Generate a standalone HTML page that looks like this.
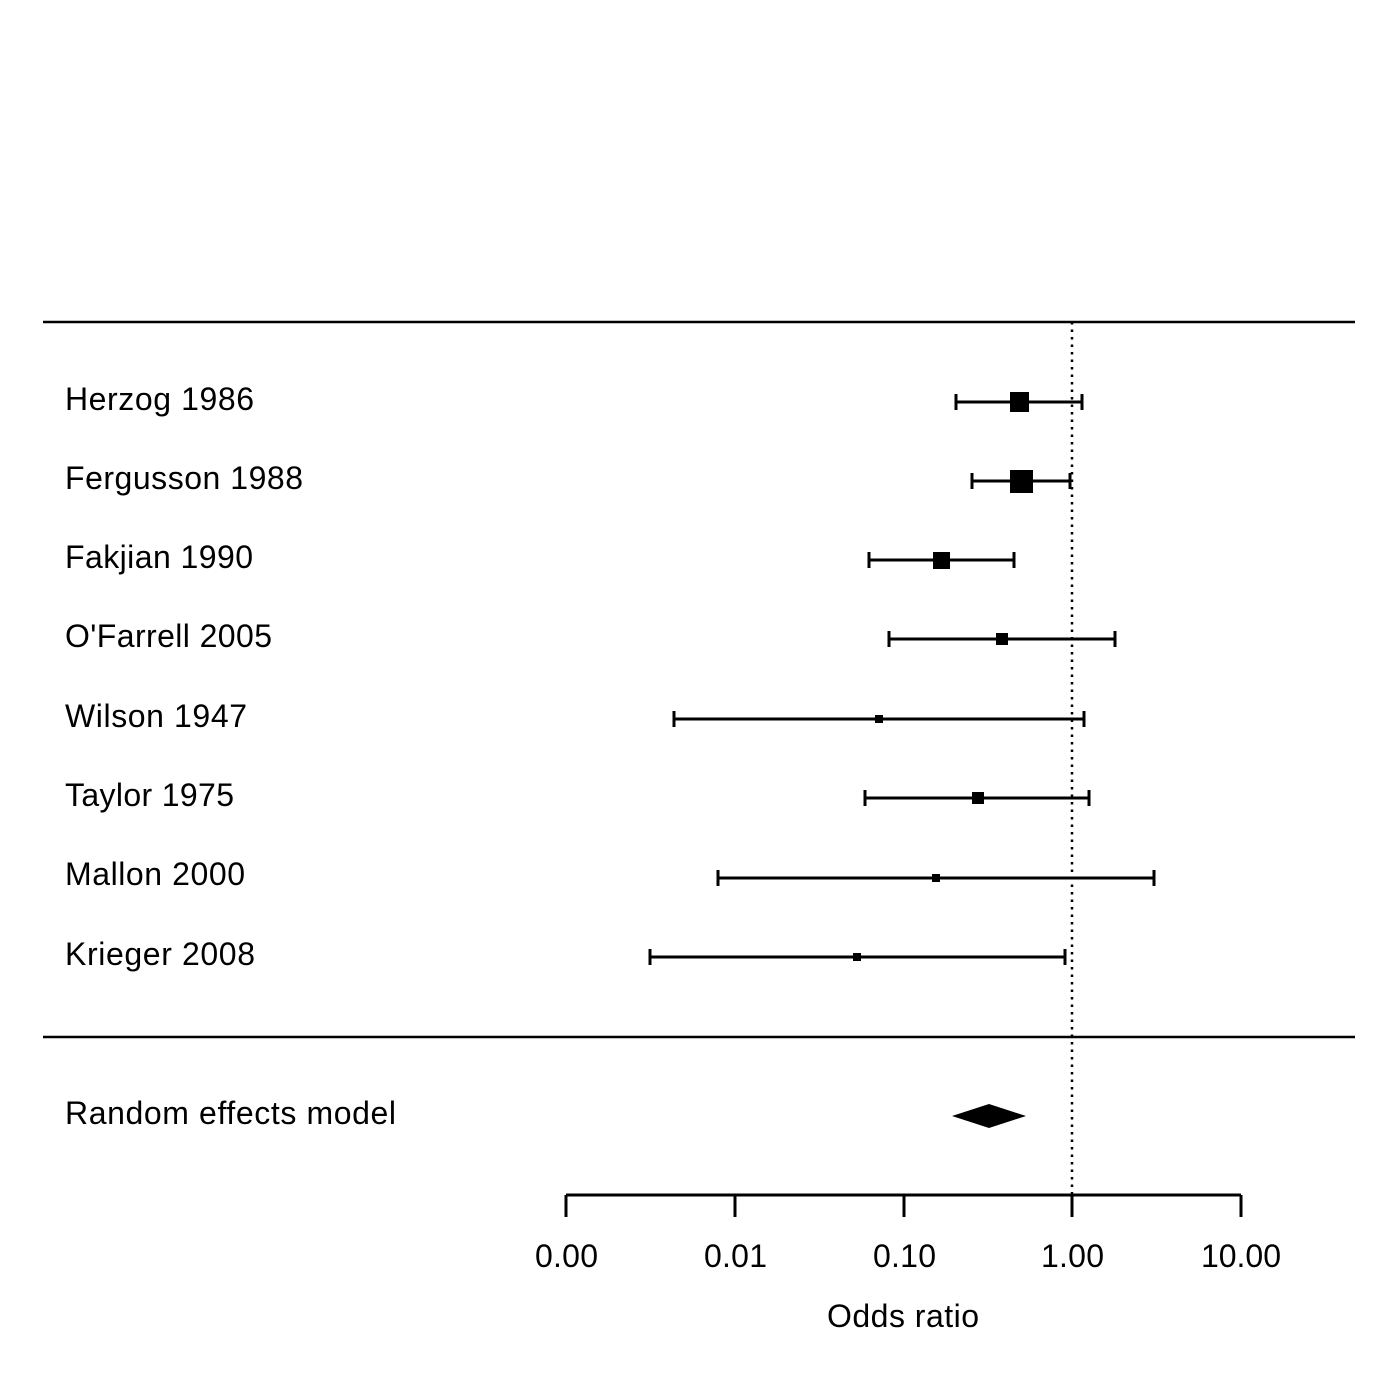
<!DOCTYPE html>
<html><head><meta charset="utf-8"><style>html,body{margin:0;padding:0;background:#fff}svg{display:block}</style></head>
<body>
<svg width="1400" height="1400" viewBox="0 0 1400 1400" xmlns="http://www.w3.org/2000/svg" font-family="Liberation Sans, sans-serif" font-size="32">
<rect width="1400" height="1400" fill="#fff"/>
<g stroke="#000" stroke-width="2.5">
<line x1="43" y1="322" x2="1355" y2="322"/>
<line x1="43" y1="1037" x2="1355" y2="1037"/>
</g>
<line x1="1072" y1="322" x2="1072" y2="1195" stroke="#000" stroke-width="2.5" stroke-dasharray="2.5,5"/>
<g stroke="#000" stroke-width="3" fill="#000">
<line x1="956" y1="402" x2="1082" y2="402"/><line x1="956" y1="394" x2="956" y2="410"/><line x1="1082" y1="394" x2="1082" y2="410"/>
<rect x="1010" y="392" width="19" height="20" stroke="none"/>
<line x1="972" y1="481" x2="1070" y2="481"/><line x1="972" y1="473" x2="972" y2="489"/><line x1="1070" y1="473" x2="1070" y2="489"/>
<rect x="1010" y="470" width="23" height="23" stroke="none"/>
<line x1="869" y1="560" x2="1014" y2="560"/><line x1="869" y1="552" x2="869" y2="568"/><line x1="1014" y1="552" x2="1014" y2="568"/>
<rect x="933" y="552" width="17" height="17" stroke="none"/>
<line x1="889" y1="639" x2="1115" y2="639"/><line x1="889" y1="631" x2="889" y2="647"/><line x1="1115" y1="631" x2="1115" y2="647"/>
<rect x="996" y="633" width="12" height="12" stroke="none"/>
<line x1="674" y1="719" x2="1084" y2="719"/><line x1="674" y1="711" x2="674" y2="727"/><line x1="1084" y1="711" x2="1084" y2="727"/>
<rect x="875" y="715" width="8" height="8" stroke="none"/>
<line x1="865" y1="798" x2="1089" y2="798"/><line x1="865" y1="790" x2="865" y2="806"/><line x1="1089" y1="790" x2="1089" y2="806"/>
<rect x="972" y="792" width="12" height="12" stroke="none"/>
<line x1="718" y1="878" x2="1154" y2="878"/><line x1="718" y1="870" x2="718" y2="886"/><line x1="1154" y1="870" x2="1154" y2="886"/>
<rect x="932" y="874" width="8" height="8" stroke="none"/>
<line x1="650" y1="957" x2="1065" y2="957"/><line x1="650" y1="949" x2="650" y2="965"/><line x1="1065" y1="949" x2="1065" y2="965"/>
<rect x="853" y="953" width="8" height="8" stroke="none"/>
</g>
<polygon points="952,1116 989,1104 1026,1116 989,1128" fill="#000"/>
<g stroke="#000" stroke-width="3">
<line x1="566" y1="1195" x2="1241" y2="1195"/>
<line x1="566" y1="1195" x2="566" y2="1217"/>
<line x1="735" y1="1195" x2="735" y2="1217"/>
<line x1="904" y1="1195" x2="904" y2="1217"/>
<line x1="1072" y1="1195" x2="1072" y2="1217"/>
<line x1="1241" y1="1195" x2="1241" y2="1217"/>
</g>
<g>
<text x="535" y="1267" textLength="63">0.00</text>
<text x="704" y="1267" textLength="63">0.01</text>
<text x="873" y="1267" textLength="63">0.10</text>
<text x="1041" y="1267" textLength="63">1.00</text>
<text x="1201" y="1267" textLength="80">10.00</text>
<text x="827" y="1327" textLength="152">Odds ratio</text>
</g>
<g>
<text x="65" y="410" textLength="189">Herzog 1986</text>
<text x="65" y="489" textLength="238">Fergusson 1988</text>
<text x="65" y="568" textLength="188">Fakjian 1990</text>
<text x="65" y="647" textLength="207">O'Farrell 2005</text>
<text x="65" y="727" textLength="182">Wilson 1947</text>
<text x="65" y="806" textLength="169">Taylor 1975</text>
<text x="65" y="885" textLength="180">Mallon 2000</text>
<text x="65" y="965" textLength="190">Krieger 2008</text>
<text x="65" y="1124" textLength="331">Random effects model</text>
</g>
</svg>
</body></html>
